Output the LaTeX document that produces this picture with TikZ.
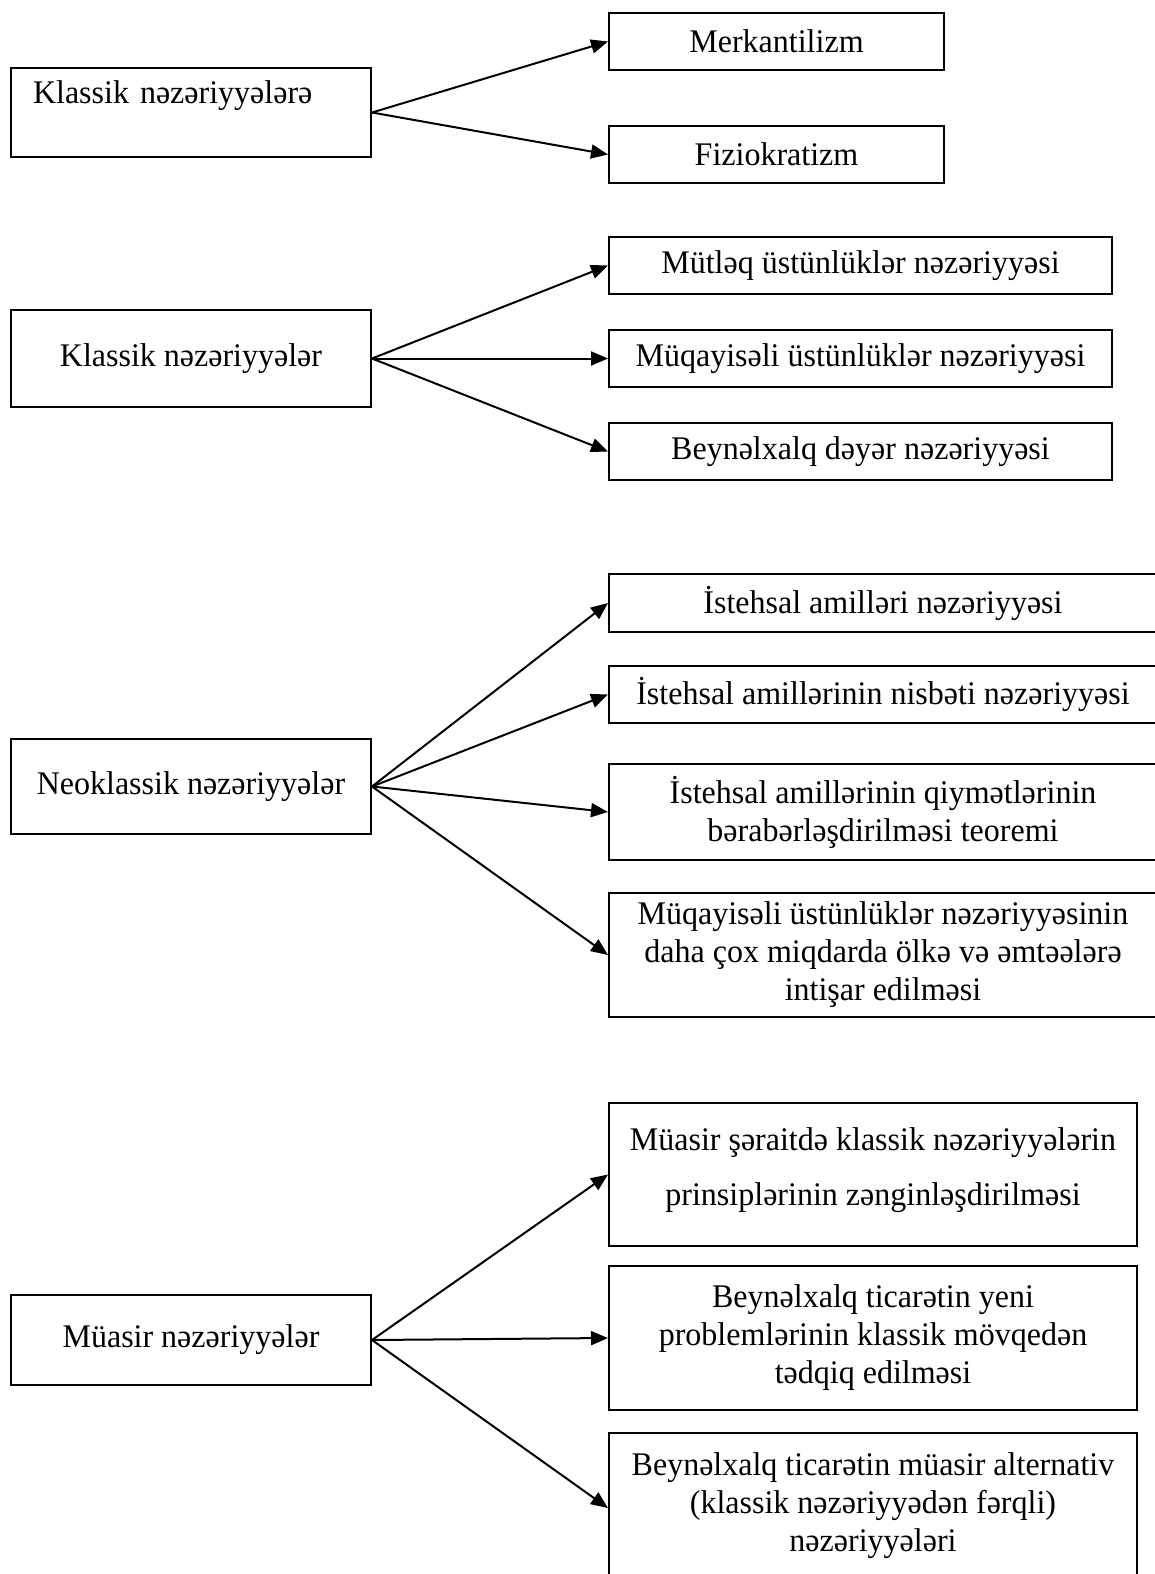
\documentclass[tikz,border=0pt]{standalone}
\usepackage{fontspec}
\setmainfont[FakeStretch=0.97]{Liberation Serif}
\usetikzlibrary{arrows.meta}
\begin{document}
\begin{tikzpicture}[x=0.5pt,y=-0.5pt,
  box/.style={draw,line width=1pt,inner sep=0pt,align=center,
    font=\fontsize{16.5pt}{19pt}\selectfont},
  arr/.style={line width=1pt,-{Triangle[length=8.5pt,width=7pt]}}]
\useasboundingbox (0,0) rectangle (1155,1574);
% group 1
\node[box,minimum width=180pt,minimum height=44.5pt,text width=158pt,align=left] (k1) at (191,112.5) {\mbox{Klassik nəzəriyyələrə}\\[1.6pt]\mbox{}};
\node[box,minimum width=167.5pt,minimum height=28.5pt] (merk) at (776.5,41.5) {Merkantilizm};
\node[box,minimum width=167.5pt,minimum height=28.5pt] (fizi) at (776.5,154.5) {Fiziokratizm};
\draw[arr] (k1.east) -- (merk.west);
\draw[arr] (k1.east) -- (fizi.west);
% group 2
\node[box,minimum width=180pt,minimum height=48.5pt] (k2) at (191,358.5) {Klassik nəzəriyyələr};
\node[box,minimum width=251.5pt,minimum height=28.5pt] (mut) at (860.5,265.5) {Mütləq üstünlüklər nəzəriyyəsi};
\node[box,minimum width=251.5pt,minimum height=28.5pt] (muq) at (860.5,358.5) {Müqayisəli üstünlüklər nəzəriyyəsi};
\node[box,minimum width=251.5pt,minimum height=28.5pt] (bey) at (860.5,451.5) {Beynəlxalq dəyər nəzəriyyəsi};
\draw[arr] (k2.east) -- (mut.west);
\draw[arr] (k2.east) -- (muq.west);
\draw[arr] (k2.east) -- (bey.west);
% group 3
\node[box,minimum width=180pt,minimum height=47.5pt] (neo) at (191,786.5) {Neoklassik nəzəriyyələr};
\node[box,minimum width=274pt,minimum height=29pt] (ist1) at (883,603) {İstehsal amilləri nəzəriyyəsi};
\node[box,minimum width=274pt,minimum height=28.5pt] (ist2) at (883,694.5) {İstehsal amillərinin nisbəti nəzəriyyəsi};
\node[box,minimum width=274pt,minimum height=48pt] (ist3) at (883,812) {İstehsal amillərinin qiymətlərinin\\bərabərləşdirilməsi teoremi};
\node[box,minimum width=274pt,minimum height=62pt] (muq2) at (883,955) {Müqayisəli üstünlüklər nəzəriyyəsinin\\daha çox miqdarda ölkə və əmtəələrə\\intişar edilməsi};
\draw[arr] (neo.east) -- (ist1.west);
\draw[arr] (neo.east) -- (ist2.west);
\draw[arr] (neo.east) -- (ist3.west);
\draw[arr] (neo.east) -- (muq2.west);
% group 4
\node[box,minimum width=180pt,minimum height=45pt] (mua) at (191,1340) {Müasir nəzəriyyələr};
\node[box,minimum width=264pt,minimum height=71.5pt] (m1) at (873,1174.5) {Müasir şəraitdə klassik nəzəriyyələrin\\[8.5pt]prinsiplərinin zənginləşdirilməsi\\[-11.4pt]\mbox{}};
\node[box,minimum width=264pt,minimum height=72pt] (m2) at (873,1338) {Beynəlxalq ticarətin yeni\\problemlərinin klassik mövqedən\\tədqiq edilməsi};
\node[box,minimum width=264pt,minimum height=75pt] (m3) at (873,1508) {Beynəlxalq ticarətin müasir alternativ\\(klassik nəzəriyyədən fərqli)\\nəzəriyyələri\\[-13.4pt]\mbox{}};
\draw[arr] (mua.east) -- (m1.west);
\draw[arr] (mua.east) -- (m2.west);
\draw[arr] (mua.east) -- (m3.west);
\end{tikzpicture}
\end{document}
